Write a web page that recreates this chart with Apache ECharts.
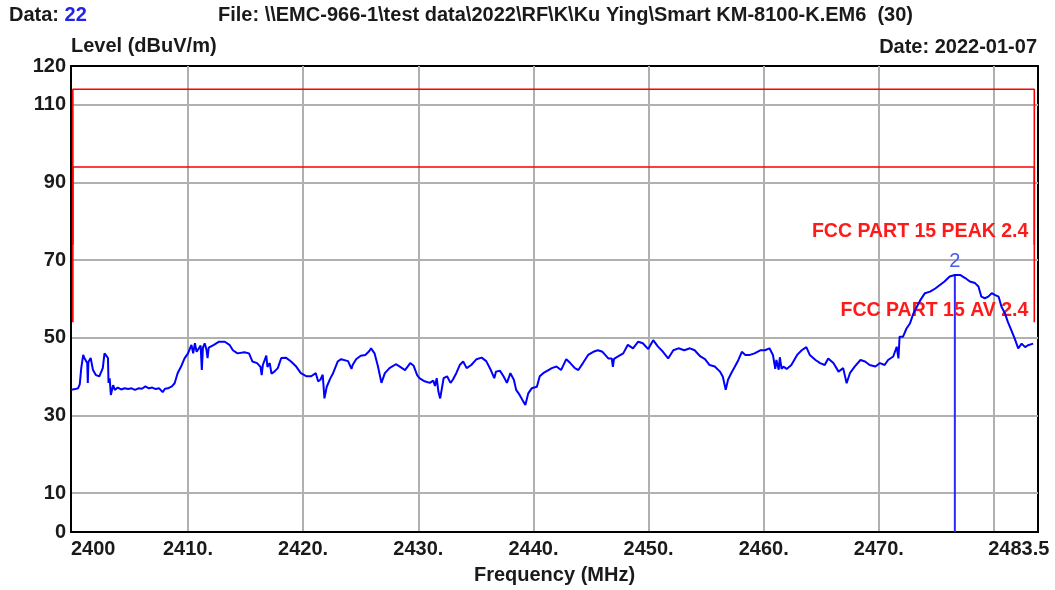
<!DOCTYPE html>
<html>
<head>
<meta charset="utf-8">
<script src="https://cdn.jsdelivr.net/npm/echarts@6/dist/echarts.min.js"></script>
<style>
html, body { margin: 0; padding: 0; background: #fff; }
#main { width: 1055px; height: 590px; }
</style>
</head>
<body>
<div id="main"></div>
<script>
// trace (MHz, dBuV/m)
var freq = [
  2399.85, 2400.2, 2400.45, 2400.6, 2400.73, 2400.9, 2401.0, 2401.1, 2401.25, 2401.3,
  2401.35, 2401.55, 2401.75, 2402.0, 2402.3, 2402.6, 2402.75, 2402.9, 2403.05, 2403.1,
  2403.2, 2403.3, 2403.5, 2403.65, 2403.9, 2404.2, 2404.5, 2404.8, 2405.1, 2405.4,
  2405.7, 2406.0, 2406.3, 2406.6, 2406.9, 2407.2, 2407.5, 2407.8, 2408.0, 2408.26,
  2408.6, 2408.84, 2409.1, 2409.4, 2409.7, 2410.0, 2410.3, 2410.45, 2410.6, 2410.75,
  2410.9, 2411.1, 2411.2, 2411.3, 2411.45, 2411.6, 2411.7, 2411.8, 2411.95, 2412.25,
  2412.7, 2413.2, 2413.6, 2413.9, 2414.3, 2414.9, 2415.3, 2415.6, 2416.0, 2416.3,
  2416.4, 2416.5, 2416.8, 2416.9, 2417.1, 2417.25, 2417.5, 2417.8, 2418.1, 2418.5,
  2418.95, 2419.4, 2419.8, 2420.3, 2420.7, 2421.1, 2421.3, 2421.5, 2421.7, 2421.85,
  2422.05, 2422.35, 2422.6, 2423.0, 2423.3, 2423.9, 2424.2, 2424.3, 2424.6, 2425.0,
  2425.4, 2425.75, 2425.9, 2426.2, 2426.5, 2426.8, 2427.1, 2427.5, 2428.05, 2428.4,
  2428.85, 2429.3, 2429.6, 2429.9, 2430.1, 2430.55, 2431.0, 2431.3, 2431.45, 2431.6,
  2431.75, 2431.9, 2432.2, 2432.5, 2432.8, 2433.0, 2433.3, 2433.6, 2433.9, 2434.2,
  2434.6, 2435.06, 2435.5, 2435.9, 2436.3, 2436.6, 2436.75, 2437.1, 2437.4, 2437.7,
  2438.0, 2438.3, 2438.5, 2438.8, 2439.1, 2439.3, 2439.55, 2439.85, 2440.3, 2440.55,
  2440.85, 2441.3, 2441.6, 2442.0, 2442.4, 2442.85, 2443.2, 2443.6, 2443.9, 2444.3,
  2444.75, 2445.2, 2445.6, 2446.0, 2446.5, 2446.8, 2446.9, 2447.0, 2447.35, 2447.8,
  2448.2, 2448.65, 2449.1, 2449.5, 2449.97, 2450.4, 2450.8, 2451.25, 2451.7, 2452.15,
  2452.6, 2453.1, 2453.6, 2454.0, 2454.5, 2454.9, 2455.3, 2455.75, 2456.2, 2456.45,
  2456.7, 2456.9, 2457.2, 2457.5, 2457.8, 2458.1, 2458.4, 2458.8, 2459.2, 2459.7,
  2460.1, 2460.5, 2460.8, 2461.0, 2461.1, 2461.3, 2461.4, 2461.55, 2461.7, 2462.0,
  2462.4, 2462.9, 2463.3, 2463.7, 2464.0, 2464.5, 2464.9, 2465.3, 2465.6, 2466.05,
  2466.5, 2466.9, 2467.2, 2467.5, 2467.9, 2468.4, 2468.8, 2469.2, 2469.7, 2470.1,
  2470.5, 2470.8, 2471.25, 2471.55, 2471.7, 2471.8, 2472.1, 2472.4, 2472.7, 2473.0,
  2473.3, 2473.6, 2474.0, 2474.45, 2474.9, 2475.3, 2475.7, 2476.15, 2476.6, 2477.05,
  2477.5, 2477.9, 2478.35, 2478.65, 2478.9, 2479.2, 2479.5, 2479.8, 2480.1, 2480.4,
  2480.65, 2480.95, 2481.2, 2481.5, 2481.8, 2482.1, 2482.4, 2482.7, 2482.95, 2483.4
];
var level = [
  36.6, 36.8, 37.0, 38.0, 42.2, 45.6, 44.8, 45.0, 43.5, 38.4,
  43.8, 44.8, 41.7, 40.4, 40.1, 42.2, 46.0, 45.4, 44.8, 38.4,
  39.6, 35.3, 37.8, 36.6, 37.2, 36.7, 37.0, 36.8, 37.0, 36.6,
  37.0, 36.9, 37.5, 37.0, 37.2, 36.8, 37.0, 36.0, 36.9, 37.0,
  37.5, 38.3, 40.9, 42.6, 44.7, 46.0, 48.2, 46.0, 48.6, 46.4,
  46.8, 48.0, 41.7, 47.5, 48.6, 47.0, 44.8, 47.5, 47.8, 48.2,
  49.0, 49.0, 48.2, 46.8, 46.0, 46.3, 46.0, 43.9, 43.5, 42.5,
  40.4, 43.0, 45.4, 42.5, 43.5, 40.8, 41.3, 42.2, 44.8, 44.9,
  43.9, 42.6, 40.9, 40.1, 40.1, 40.9, 38.8, 39.2, 40.5, 34.4,
  37.4, 39.5, 40.9, 43.9, 44.5, 44.0, 42.0, 43.0, 44.5, 45.4,
  45.6, 46.6, 47.3, 46.0, 42.6, 38.4, 40.9, 42.2, 43.2, 42.6,
  41.7, 43.5, 42.8, 40.4, 39.6, 38.8, 38.4, 39.0, 37.6, 39.6,
  36.1, 34.4, 39.6, 40.1, 38.4, 39.2, 40.9, 43.0, 43.9, 42.2,
  43.0, 44.5, 44.9, 44.0, 41.7, 39.6, 41.3, 41.5, 40.1, 38.4,
  40.9, 39.2, 36.6, 35.3, 33.7, 32.7, 35.7, 37.0, 37.4, 40.1,
  40.9, 41.7, 42.2, 42.6, 41.7, 44.5, 43.5, 42.2, 41.7, 43.5,
  45.6, 46.4, 46.8, 46.4, 44.7, 44.7, 42.5, 44.6, 45.2, 46.0,
  48.2, 47.3, 49.0, 48.6, 47.1, 49.4, 47.8, 46.4, 44.7, 46.8,
  47.3, 46.8, 47.3, 46.8, 45.2, 44.5, 43.0, 42.6, 41.3, 40.0,
  36.6, 39.2, 41.0, 42.6, 44.3, 46.4, 45.6, 45.6, 46.0, 46.8,
  46.8, 47.3, 45.6, 42.0, 44.3, 41.8, 45.0, 42.0, 42.6, 42.0,
  43.0, 45.6, 46.8, 47.6, 45.6, 44.3, 43.5, 43.0, 44.7, 43.5,
  41.3, 42.2, 38.3, 41.0, 42.6, 44.3, 43.9, 43.0, 42.6, 43.5,
  43.0, 44.3, 45.2, 47.7, 44.7, 50.3, 50.3, 52.4, 53.7, 56.3,
  58.0, 59.7, 61.5, 61.9, 62.7, 63.6, 64.5, 65.8, 66.2, 66.2,
  65.4, 64.5, 64.1, 63.2, 60.6, 60.2, 60.6, 61.5, 61.0, 60.6,
  58.0, 56.3, 54.1, 52.0, 49.8, 47.3, 48.5, 47.6, 48.1, 48.5
];

// FCC Part 15 limit lines
var limitFreq = [2400, 2400, 2483.5, 2483.5];
var peakLimit = [74, 114, 114, 74];
var avLimit = [54, 94, 94, 54];
var peakName = 'FCC PART 15 PEAK 2.4';
var avName = 'FCC PART 15 AV 2.4';

// marker
var markerFreq = 2476.6;
var markerLevel = 66.2;
var markerName = '2';

// axes
var xMin = 2399.84, xMax = 2483.82;
var xLabelValues = [2399.84, 2410, 2420, 2430, 2440, 2450, 2460, 2470, 2483.5];
var xTickLabels = ['2400', '2410.', '2420.', '2430.', '2440.', '2450.', '2460.', '2470.', '2483.5'];
var xGridValues = [2410, 2420, 2430, 2440, 2450, 2460, 2470, 2480];
var yLabelValues = [0, 10, 30, 50, 70, 90, 110, 120];
var yGridValues = [10, 30, 50, 70, 90, 110];

var FONT = '"Liberation Sans", Arial, sans-serif';

function pairs(xs, ys) {
    return xs.map(function (x, i) { return [x, ys[i]]; });
}

var myChart = echarts.init(document.getElementById('main'));

var option = {
    backgroundColor: '#fff',
    animation: false,
    title: [
        {
            text: '{a|Data: }{b|22}',
            left: 9, top: 5, padding: 0,
            textStyle: {
                rich: {
                    a: { fontFamily: FONT, fontSize: 20, fontWeight: 'bold', color: '#1a1a1a' },
                    b: { fontFamily: FONT, fontSize: 20, fontWeight: 'bold', color: '#2323e8' }
                }
            }
        },
        {
            text: 'File: \\\\EMC-966-1\\test data\\2022\\RF\\K\\Ku Ying\\Smart KM-8100-K.EM6  (30)',
            left: 218, top: 5, padding: 0,
            textStyle: { fontFamily: FONT, fontSize: 20, fontWeight: 'bold', color: '#1a1a1a' }
        },
        {
            text: 'Date: 2022-01-07',
            right: 18, top: 37, padding: 0,
            textStyle: { fontFamily: FONT, fontSize: 20, fontWeight: 'bold', color: '#1a1a1a' }
        }
    ],
    grid: {
        left: 71, right: 17, top: 66, bottom: 58,
        show: true, borderColor: '#000', borderWidth: 2, backgroundColor: '#fff'
    },
    xAxis: {
        type: 'value',
        min: xMin, max: xMax,
        name: 'Frequency (MHz)',
        nameLocation: 'middle',
        nameGap: 43,
        nameTextStyle: { fontFamily: FONT, fontSize: 20, fontWeight: 'bold', color: '#1a1a1a', verticalAlign: 'middle' },
        axisLine: { show: true, lineStyle: { color: '#000', width: 2 } },
        axisTick: { show: false, customValues: xGridValues },
        splitLine: { show: true, lineStyle: { color: '#b0b0b0', width: 2 } },
        axisLabel: {
            customValues: xLabelValues,
            margin: 7,
            alignMinLabel: 'left',
            alignMaxLabel: 'center',
            fontFamily: FONT, fontSize: 20, fontWeight: 'bold', color: '#1a1a1a',
            formatter: function (v) {
                var i = xLabelValues.indexOf(v);
                var t = i >= 0 ? xTickLabels[i] : '';
                return i === xLabelValues.length - 1 ? '{e|' + t + '}' : t;
            },
            rich: {
                e: { fontFamily: FONT, fontSize: 20, fontWeight: 'bold', color: '#1a1a1a', padding: [0, 31, 0, 0] }
            }
        }
    },
    yAxis: {
        type: 'value',
        min: 0, max: 120,
        name: 'Level (dBuV/m)',
        nameLocation: 'end',
        nameGap: 13,
        nameTextStyle: { fontFamily: FONT, fontSize: 20, fontWeight: 'bold', color: '#1a1a1a', align: 'left', verticalAlign: 'middle' },
        axisLine: { show: true, lineStyle: { color: '#000', width: 2 } },
        axisTick: { show: false, customValues: yGridValues },
        splitLine: { show: true, lineStyle: { color: '#b0b0b0', width: 2 } },
        axisLabel: {
            customValues: yLabelValues,
            margin: 5,
            fontFamily: FONT, fontSize: 20, fontWeight: 'bold', color: '#1a1a1a'
        }
    },
    series: [
        {
            name: peakName,
            type: 'line',
            z: 2,
            data: pairs(limitFreq, peakLimit),
            symbol: 'none',
            lineStyle: { color: '#ff0000', width: 1.6 },
            markPoint: {
                symbol: 'circle', symbolSize: 0, silent: true,
                data: [{ coord: [limitFreq[3], peakLimit[3]] }],
                label: {
                    show: true, position: 'left', distance: 6, offset: [0, -13],
                    formatter: peakName,
                    fontFamily: FONT, fontSize: 19.5, fontWeight: 'bold', color: '#ff1a1a'
                }
            }
        },
        {
            name: avName,
            type: 'line',
            z: 2,
            data: pairs(limitFreq, avLimit),
            symbol: 'none',
            lineStyle: { color: '#ff0000', width: 1.6 },
            markPoint: {
                symbol: 'circle', symbolSize: 0, silent: true,
                data: [{ coord: [limitFreq[3], avLimit[3]] }],
                label: {
                    show: true, position: 'left', distance: 6, offset: [0, -12],
                    formatter: avName,
                    fontFamily: FONT, fontSize: 19.5, fontWeight: 'bold', color: '#ff1a1a'
                }
            }
        },
        {
            name: 'Level',
            type: 'line',
            z: 5,
            data: pairs(freq, level),
            symbol: 'none',
            lineStyle: { color: '#0000ff', width: 2 }
        },
        {
            name: 'Marker',
            type: 'line',
            z: 4,
            data: [[markerFreq, 0], [markerFreq, markerLevel]],
            symbol: 'none',
            lineStyle: { color: '#2a2aff', width: 2 },
            markPoint: {
                symbol: 'circle', symbolSize: 0, silent: true,
                data: [{ coord: [markerFreq, markerLevel] }],
                label: {
                    show: true, position: 'top', distance: 3,
                    formatter: markerName,
                    fontFamily: FONT, fontSize: 20, color: '#4a5ae8'
                }
            }
        }
    ]
};

myChart.setOption(option);
</script>
</body>
</html>
